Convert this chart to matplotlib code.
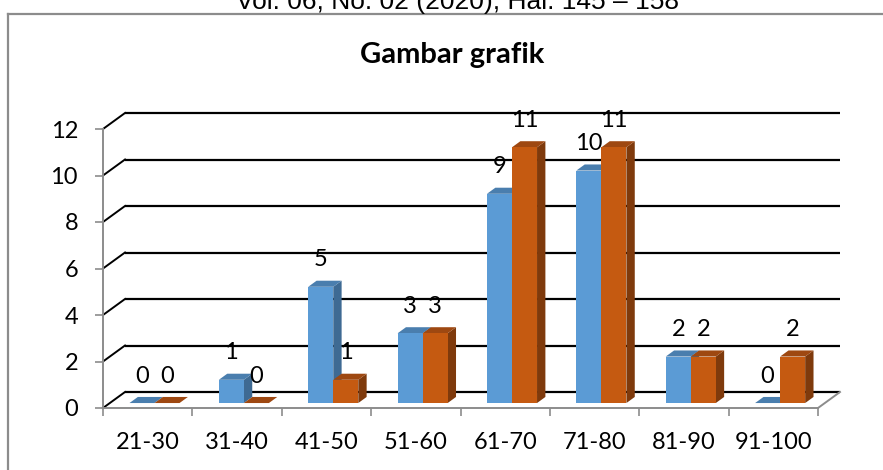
import numpy as np
import matplotlib
matplotlib.use("Agg")
import matplotlib.pyplot as plt
from matplotlib.patches import Polygon
from matplotlib.lines import Line2D

# data
categories = ["21-30", "31-40", "41-50", "51-60", "61-70", "71-80", "81-90", "91-100"]
series_a = [0, 1, 5, 3, 9, 10, 2, 0]
series_b = [0, 0, 1, 3, 11, 11, 2, 2]
y_ticks = [0, 2, 4, 6, 8, 10, 12]

W, H = 883, 470
plt.rcParams['font.family'] = ['Lato', 'DejaVu Sans']
fig = plt.figure(figsize=(W / 100, H / 100), dpi=100)

# front axis box in pixels
left_px, right_px, bottom_px, top_px = 103, 818, 408, 129
ax = fig.add_axes([left_px / W, 1 - bottom_px / H,
                   (right_px - left_px) / W, (bottom_px - top_px) / H])
ax.set_xlim(-0.5, len(categories) - 0.5)
ax.set_ylim(0, 12)

# depth offset of the back wall, in data units
px_x = (right_px - left_px) / len(categories)
px_y = (bottom_px - top_px) / 12
DX = 22 / px_x
DY = 16 / px_y

def proj(x, y, d):
    return (x + d * DX, y + d * DY)

grey = "#8c8c8c"
x0, x1 = -0.5, len(categories) - 0.5

# back gridlines + left diagonals
for v in y_ticks:
    ax.plot([x0 + DX, x1 + DX], [v + DY, v + DY], color="black", lw=1.6,
            clip_on=False, zorder=1, solid_capstyle="butt")
    ax.plot([x0, x0 + DX], [v, v + DY], color="black", lw=1.4,
            clip_on=False, zorder=1)
# right edge of the floor
ax.plot([x1, x1 + DX], [0, DY], color=grey, lw=1.4, clip_on=False, zorder=1)

# bars
w = 0.28
d0, d1 = 0.31, 0.69
cols = [("#5B9BD5", "#4A7EAE", "#3E6A93"), ("#C55A11", "#9E4811", "#7F3A0C")]
for i in range(len(categories)):
    for k, vals in enumerate([series_a, series_b]):
        v = vals[i]
        front, top, side = cols[k]
        xl = i - w + k * w
        xr = xl + w
        # side face
        if v > 0:
            ax.add_patch(Polygon([proj(xr, 0, d0), proj(xr, 0, d1),
                                  proj(xr, v, d1), proj(xr, v, d0)],
                                 closed=True, fc=side, ec="none",
                                 clip_on=False, zorder=3))
        # top face
        ax.add_patch(Polygon([proj(xl, v, d0), proj(xr, v, d0),
                              proj(xr, v, d1), proj(xl, v, d1)],
                             closed=True, fc=top, ec="none",
                             clip_on=False, zorder=3))
        # front face
        fx, fy = proj(xl, 0, d0)
        ax.bar(fx, v, width=w, bottom=fy, align="edge", color=front,
               edgecolor="none", zorder=3, clip_on=False)
        lx, ly = proj(xl + w / 2, v, d0)
        ax.text(lx, ly + 1.16, str(v), ha="center", va="center",
                fontsize=17, color="black", zorder=5)

# axes styling
for s in ["top", "right"]:
    ax.spines[s].set_visible(False)
for s in ["left", "bottom"]:
    ax.spines[s].set_color(grey)
    ax.spines[s].set_linewidth(1.4)
ax.set_yticks(y_ticks)
ax.tick_params(axis="y", colors=grey, length=6, width=1.2, pad=12,
               labelcolor="black", labelsize=17)
ax.set_xticks(np.arange(x0, x1 + 0.01, 1))
ax.set_xticklabels([])
ax.tick_params(axis="x", which="major", colors=grey, length=6, width=1.2)
ax.set_xticks(range(len(categories)), minor=True)
ax.set_xticklabels(categories, minor=True)
ax.tick_params(axis="x", which="minor", length=0, pad=17, labelsize=17,
               labelcolor="black")
ax.patch.set_visible(False)

# title
fig.text(452 / W, 1 - 63 / H, "Gambar grafik", ha="center", va="baseline",
         fontsize=21, fontweight="bold")

# page header (cut off at top, as in the source page)
fig.text(457 / W, 1 - 9 / H, "Vol. 06, No. 02 (2020), Hal. 145 \u2013 158",
         ha="center", va="baseline", fontsize=19, family="Liberation Sans")

# chart frame
fig.add_artist(Line2D([8 / W, 8 / W], [0, 1 - 14 / H], transform=fig.transFigure,
                      color=grey, lw=1.6))
fig.add_artist(Line2D([8 / W, 1], [1 - 14 / H, 1 - 14 / H], transform=fig.transFigure,
                      color=grey, lw=1.6))

fig.savefig("out.png", dpi=100)
